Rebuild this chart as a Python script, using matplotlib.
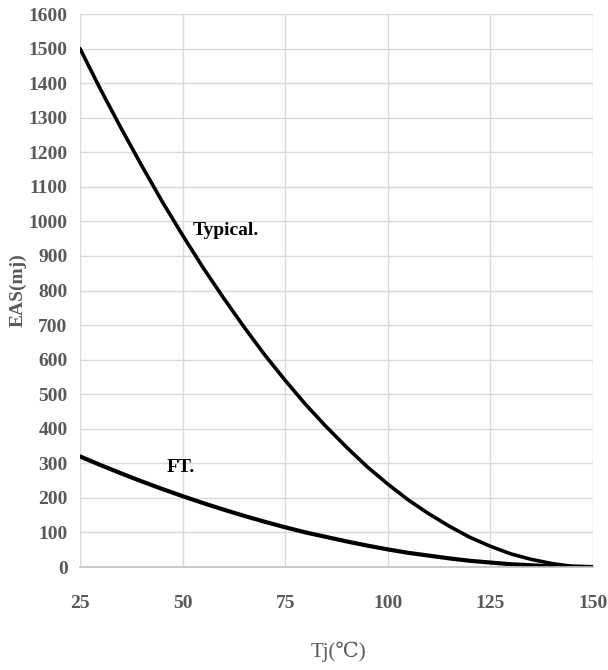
import matplotlib
matplotlib.use('Agg')
import matplotlib.pyplot as plt

# Junction temperature (degC)
tj = [25, 30, 35, 40, 45, 50, 55, 60, 65, 70, 75, 80, 85, 90, 95,
      100, 105, 110, 115, 120, 125, 130, 135, 140, 145, 150]

# EAS values (mJ)
eas_typical = [1500, 1382, 1270, 1162, 1058, 960, 866, 778, 694, 614, 540,
               470, 406, 346, 290, 240, 194, 154, 118, 86, 60, 38, 22, 10, 2, 0]
eas_ft = [320, 295, 271, 248, 226, 205, 185, 166, 148, 131, 115, 100, 87,
          74, 62, 51, 41, 33, 25, 18, 13, 8, 5, 2, 1, 0]

x_ticks = [25, 50, 75, 100, 125, 150]
y_ticks = list(range(0, 1700, 100))

serif = ['Liberation Serif', 'DejaVu Serif', 'DejaVu Sans']
plt.rcParams['font.family'] = serif

fig = plt.figure(figsize=(6.08, 6.70), dpi=100)
ax = fig.add_axes([0.1316, 0.1537, 0.8437, 0.8253])

ax.plot(tj, eas_typical, color='black', linewidth=2.6, solid_capstyle='round')
ax.plot(tj, eas_ft, color='black', linewidth=3.0, solid_capstyle='round')

ax.set_xlim(25, 150)
ax.set_ylim(0, 1600)
ax.set_xticks(x_ticks)
ax.set_yticks(y_ticks)
ax.grid(True, color='#d9d9d9', linewidth=1.0)
ax.set_axisbelow(True)

for side in ['top', 'right', 'left']:
    ax.spines[side].set_visible(False)
ax.spines['bottom'].set_color('#bfbfbf')
ax.spines['bottom'].set_linewidth(1.2)

ax.tick_params(axis='both', length=0, colors='#595959', labelsize=14)
ax.tick_params(axis='x', pad=20)
ax.tick_params(axis='y', pad=9)
for lbl in ax.get_xticklabels() + ax.get_yticklabels():
    lbl.set_fontweight('bold')

fig.text(0.556, 0.027, 'Tj(℃)', ha='center', va='center', fontsize=15,
         color='#595959', family=serif)
fig.text(0.030, 0.567, 'EAS(mj)', ha='center', va='center', fontsize=14,
         color='#595959', fontweight='bold', rotation=90)

ax.text(52.5, 975, 'Typical.', fontsize=14, fontweight='bold', va='center')
ax.text(46.2, 289, 'FT.', fontsize=14, fontweight='bold', va='center')

fig.savefig('out.png', dpi=100)
